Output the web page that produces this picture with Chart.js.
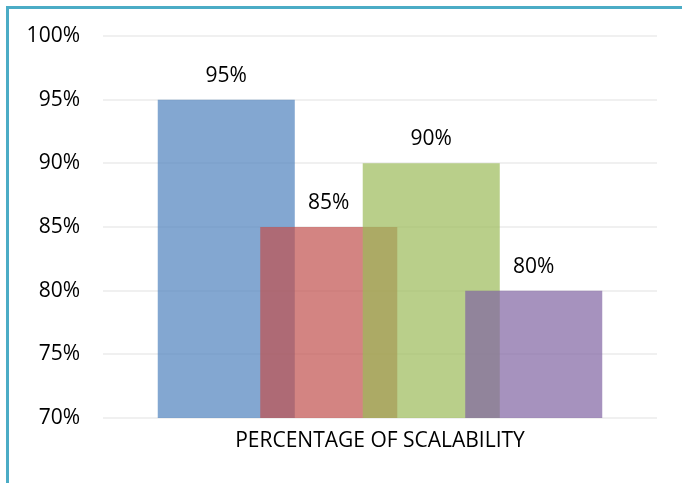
<!DOCTYPE html>
<html>
<head>
<meta charset="utf-8">
<script src="https://cdn.jsdelivr.net/npm/chart.js@4/dist/chart.umd.min.js"></script>
<style>
  html, body { margin: 0; padding: 0; background: #fff; }
  #frame {
    position: absolute; left: 6px; top: 6px; right: 0; bottom: 0;
    border-left: 3px solid #4bacc6; border-top: 3px solid #4bacc6;
  }
  #wrap { position: absolute; left: 0; top: 0; width: 682px; height: 483px; }
</style>
</head>
<body>
<div id="frame"></div>
<div id="wrap"><canvas id="chart" width="682" height="483"></canvas></div>
<script>
// chart data
const categories = ["PERCENTAGE OF SCALABILITY"];
const seriesNames = ["Series 1", "Series 2", "Series 3", "Series 4"];
const seriesValues = [[95], [85], [90], [80]];
const seriesColors = ["rgba(79,129,189,0.7)", "rgba(192,80,77,0.7)", "rgba(155,187,89,0.7)", "rgba(128,100,162,0.7)"];
const yTicks = [70, 75, 80, 85, 90, 95, 100];

const FONT = "'Open Sans', sans-serif";

// draws series in index order (later series on top, like the original) and the value labels
const overlapPlugin = {
  id: "overlap",
  beforeDatasetsDraw(chart) {
    const metas = chart.getSortedVisibleDatasetMetas();
    for (let i = 0; i < metas.length; i++) {
      chart._drawDataset(metas[i]);
    }
    const c = chart.ctx;
    c.save();
    c.font = "21px " + FONT;
    c.fillStyle = "#000";
    c.textAlign = "center";
    c.textBaseline = "middle";
    metas.forEach((meta, i) => {
      meta.data.forEach((bar, j) => {
        c.fillText(seriesValues[i][j] + "%", bar.x, bar.y - 24);
      });
    });
    c.restore();
    return false;
  }
};

const ctx = document.getElementById("chart").getContext("2d");

new Chart(ctx, {
  type: "bar",
  data: {
    labels: categories,
    datasets: seriesNames.map((name, i) => ({
      label: name,
      data: seriesValues[i],
      backgroundColor: seriesColors[i],
      borderWidth: 0,
      categoryPercentage: 0.74,
      barPercentage: 1.337
    }))
  },
  options: {
    responsive: false,
    animation: false,
    layout: { padding: { top: 36, right: 25, left: 0, bottom: 0 } },
    plugins: { legend: { display: false }, tooltip: { enabled: false } },
    scales: {
      x: {
        grid: { display: false },
        border: { display: false },
        ticks: { color: "#000", font: { family: FONT, size: 21 }, padding: 2 },
        afterFit(scale) { scale.height = 65; }
      },
      y: {
        min: yTicks[0],
        max: yTicks[yTicks.length - 1],
        afterBuildTicks(scale) { scale.ticks = yTicks.map(v => ({ value: v })); },
        grid: { color: "#f0f0f0", lineWidth: 2, drawTicks: false },
        border: { display: false },
        ticks: {
          color: "#000",
          font: { family: FONT, size: 21 },
          padding: 23,
          callback: v => v + "%"
        },
        afterFit(scale) { scale.width = 103; }
      }
    }
  },
  plugins: [overlapPlugin]
});
</script>
</body>
</html>
